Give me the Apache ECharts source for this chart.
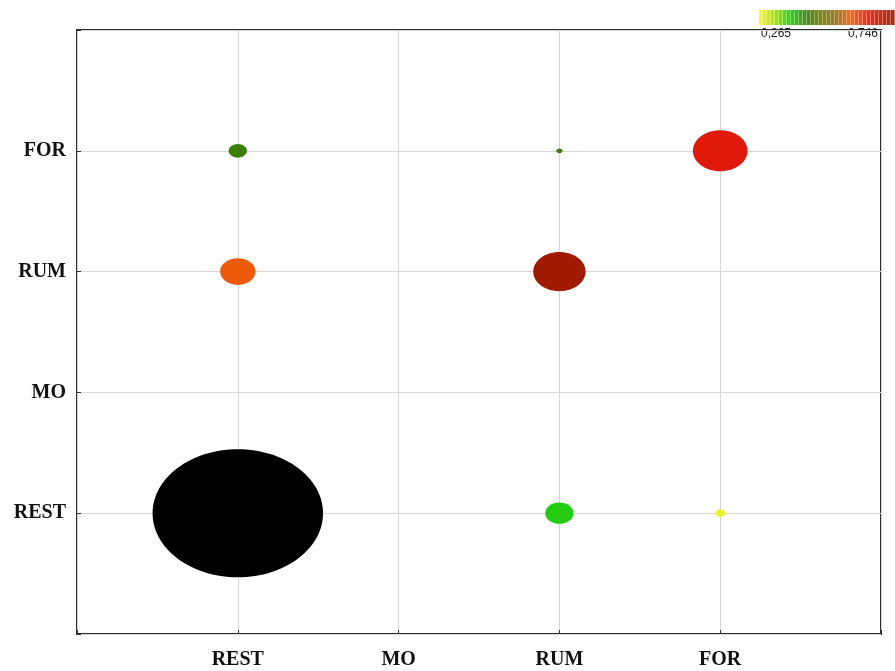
<!DOCTYPE html>
<html>
<head>
<meta charset="utf-8">
<script src="https://cdn.jsdelivr.net/npm/echarts@6/dist/echarts.min.js"></script>
<style>
  html, body { margin: 0; padding: 0; background: #fff; }
  #chart { width: 895px; height: 671px; }
</style>
</head>
<body>
<div id="chart"></div>
<script>
// Behaviour states shown on both axes
const states = ['REST', 'MO', 'RUM', 'FOR'];

// One entry per bubble: column state, row state, radius (axis units), shade value
const fromState = [0, 2, 3, 0, 2, 0, 2, 3];
const toState   = [3, 3, 3, 2, 2, 0, 0, 0];
const radius    = [0.057, 0.02, 0.17, 0.11, 0.163, 0.53, 0.088, 0.03];
const shade     = [0.43, 0.44, 0.66, 0.59, 0.74, 0.92, 0.37, 0.27];

// Colour scale
const scaleMin = 0.265;
const scaleMax = 0.746;
const scaleLabels = ['0,265', '0,746'];
const ramp = [
  [0.00, [244, 244, 40]],
  [0.10, [168, 224, 0]],
  [0.22, [34, 204, 17]],
  [0.35, [61, 122, 10]],
  [0.45, [111, 122, 0]],
  [0.55, [138, 106, 16]],
  [0.68, [240, 90, 10]],
  [0.82, [224, 26, 10]],
  [1.00, [154, 26, 0]]
];

function rampColor(t) {
  if (t > 1) return '#000000';
  t = Math.max(0, t);
  for (let i = 1; i < ramp.length; i++) {
    const [t1, c1] = ramp[i];
    const [t0, c0] = ramp[i - 1];
    if (t <= t1) {
      const f = (t - t0) / (t1 - t0);
      const c = c0.map((v, k) => Math.round(v + (c1[k] - v) * f));
      return 'rgb(' + c.join(',') + ')';
    }
  }
  return 'rgb(' + ramp[ramp.length - 1][1].join(',') + ')';
}
const shadeColor = v => rampColor((v - scaleMin) / (scaleMax - scaleMin));

const bubbles = fromState.map((x, i) => [x, toState[i], radius[i], shade[i]]);

// Striped colour bar in the top-right corner
const barLeft = 759, barTop = 10, barHeight = 15, stripeW = 4, stripes = 34;
const barElements = [];
for (let i = 0; i < stripes; i++) {
  const t = i / (stripes - 1);
  barElements.push({
    type: 'rect',
    shape: { x: barLeft + i * stripeW, y: barTop, width: stripeW - 1, height: barHeight },
    style: { fill: rampColor(t), opacity: 0.9 }
  });
  barElements.push({
    type: 'rect',
    shape: { x: barLeft + i * stripeW + stripeW - 1, y: barTop, width: 1, height: barHeight },
    style: { fill: rampColor(t), opacity: 0.6 }
  });
}

const labelFont = {
  fontFamily: 'Liberation Serif',
  fontWeight: 'bold',
  fontSize: 20,
  color: '#111111'
};

const tickStyle = { show: true, inside: true, length: 4, lineStyle: { color: '#333', width: 1 } };

const chart = echarts.init(document.getElementById('chart'), null, { renderer: 'canvas' });
chart.setOption({
  animation: false,
  backgroundColor: '#ffffff',
  grid: {
    left: 77, right: 14, top: 30, bottom: 37,
    show: true,
    borderColor: '#2e2e2e',
    borderWidth: 2,
    backgroundColor: 'transparent'
  },
  xAxis: {
    type: 'value',
    position: 'bottom',
    min: -1, max: 4, interval: 1,
    axisLine: { show: false, onZero: false },
    axisTick: tickStyle,
    axisLabel: Object.assign({ margin: 16, formatter: v => states[v] || '' }, labelFont),
    splitLine: { show: true, lineStyle: { color: '#d6d6d6', width: 1 } }
  },
  yAxis: {
    type: 'value',
    position: 'left',
    min: -1, max: 4, interval: 1,
    axisLine: { show: false, onZero: false },
    axisTick: tickStyle,
    axisLabel: Object.assign({ margin: 11, formatter: v => states[v] || '' }, labelFont),
    splitLine: { show: true, lineStyle: { color: '#d6d6d6', width: 1 } }
  },
  series: [{
    type: 'custom',
    data: bubbles,
    renderItem: function (params, api) {
      const c = api.coord([api.value(0), api.value(1)]);
      const r = api.value(2);
      const s = api.size([r, r]);
      return {
        type: 'ellipse',
        shape: { cx: c[0], cy: c[1], rx: s[0], ry: s[1] },
        style: { fill: shadeColor(api.value(3)) }
      };
    }
  }],
  graphic: [
    { type: 'group', children: barElements },
    {
      type: 'text', left: 761, top: 28,
      style: { text: scaleLabels[0], font: '12px "Liberation Sans"', fill: '#222' }
    },
    {
      type: 'text', left: 848, top: 28,
      style: { text: scaleLabels[1], font: '12px "Liberation Sans"', fill: '#222' }
    }
  ]
});
</script>
</body>
</html>
